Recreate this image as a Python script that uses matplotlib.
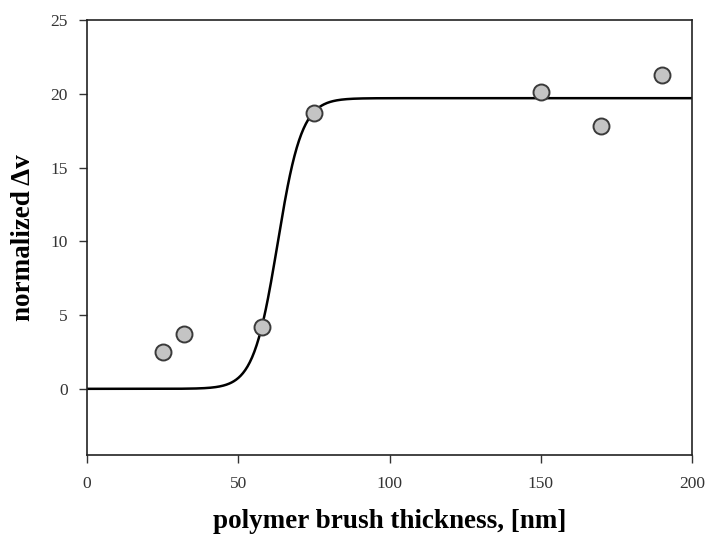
import numpy as np
import matplotlib
matplotlib.use("Agg")
import matplotlib.pyplot as plt

# measured data
thickness = [25, 32, 58, 75, 150, 170, 190]
delta_v = [2.5, 3.7, 4.2, 18.7, 20.1, 17.8, 21.3]

# sigmoid fit parameters
fit_max = 19.7
fit_x0 = 63.0
fit_b = 4.0

xticks = [0, 50, 100, 150, 200]
yticks = [0, 5, 10, 15, 20, 25]

plt.rcParams['font.family'] = ['Liberation Serif', 'DejaVu Serif']

fig = plt.figure(figsize=(7.07, 5.40), dpi=100)
ax = fig.add_axes([0.123, 0.157, 0.856, 0.806])

xs = np.linspace(0, 200, 800)
ys = fit_max / (1 + np.exp(-(xs - fit_x0) / fit_b))
ax.plot(xs, ys, color='black', lw=1.8, zorder=2)
ax.plot(thickness, delta_v, 'o', ms=11.5, mfc='#c4c4c4', mec='#3a3a3a', mew=1.4, zorder=3)

ax.set_xlim(0, 200)
ax.set_ylim(-4.5, 25)
ax.set_xticks(xticks)
ax.set_yticks(yticks)
ax.tick_params(direction='out', length=6, width=1, labelsize=12.5, top=False, right=False,
               labelcolor='#333333', color='#333333')
ax.tick_params(axis='x', pad=9)
ax.tick_params(axis='y', pad=8)
for s in ax.spines.values():
    s.set_linewidth(1.2)
    s.set_color('#222222')

ax.set_xlabel('polymer brush thickness, [nm]', fontsize=19.5, fontweight='bold', labelpad=12)
ax.set_ylabel('normalized \u0394v', fontsize=19.5, fontweight='bold', labelpad=10)

fig.savefig('out.png', dpi=100)
